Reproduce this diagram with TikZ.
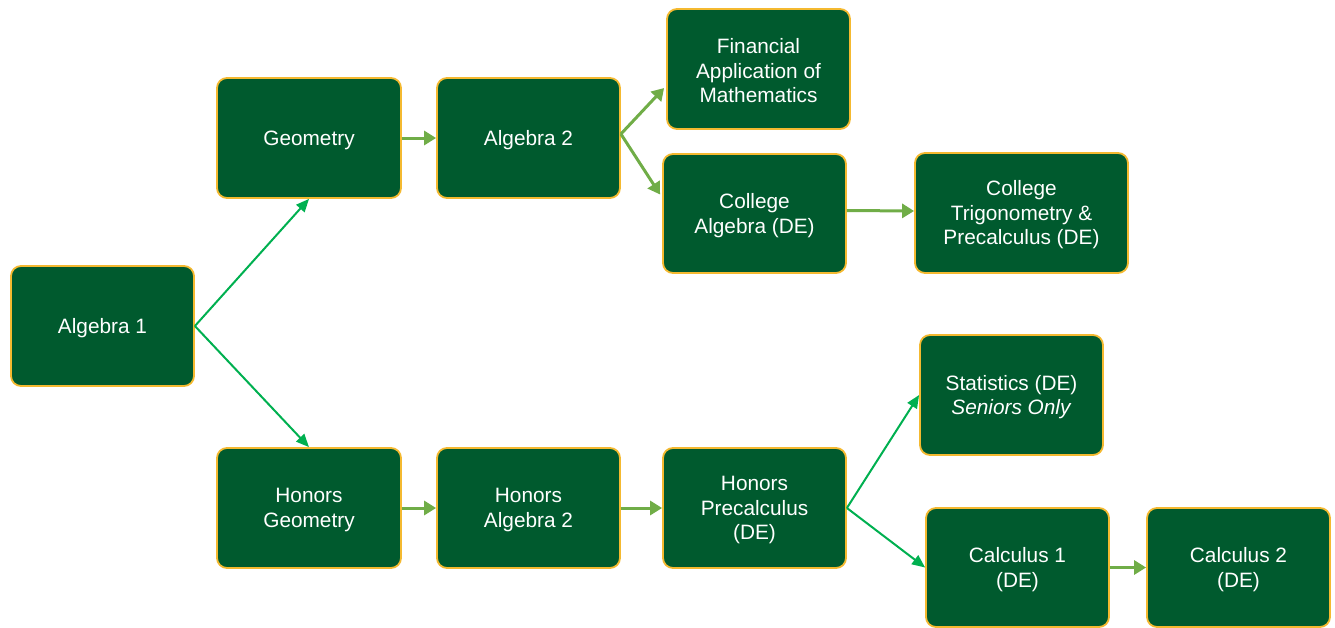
\documentclass[tikz,border=0pt]{standalone}
\usepackage{fontspec}
\setmainfont{Liberation Sans}
\usetikzlibrary{arrows.meta,calc}
\definecolor{boxfill}{RGB}{0,90,46}
\definecolor{boxline}{RGB}{244,185,48}
\definecolor{lgreen}{RGB}{112,173,71}
\definecolor{bgreen}{RGB}{0,176,80}
\begin{document}
\begin{tikzpicture}[x=1pt,y=-1pt,
  course/.style={draw=boxline,line width=1.8pt,fill=boxfill,rounded corners=10pt,inner sep=0pt},
  coursetext/.style={text=white,font=\fontsize{20.8}{24.5}\selectfont,align=center,inner sep=0pt},
  thick arrow/.style={draw=lgreen,line width=3pt,-{Triangle[length=12pt,width=14pt]}},
  thin arrow/.style={draw=bgreen,line width=2pt,-{Triangle[length=13pt,width=11pt]}}]
\useasboundingbox (0,0) rectangle (1335,627);
\newcommand{\crs}[6]{\node[course,minimum width=#4-#2,minimum height=#5-#3] (#1) at ({(#2+#4)/2},{(#3+#5)/2}) {};
  \node[coursetext] (#1t) at ($(#1.center)+(0,2)$) {#6};}
\crs{alg1}{11}{266}{194}{386}{Algebra 1}
\crs{geo}{217}{78}{401}{198}{Geometry}
\crs{alg2}{437}{78}{620}{198}{Algebra 2}
\crs{fin}{667}{9}{850}{129}{Financial\\Application of\\Mathematics}
\crs{calg}{663}{154}{846}{273}{College\\Algebra (DE)}
\crs{ctrig}{915}{153}{1128}{273}{College\\Trigonometry \&\\Precalculus (DE)}
\crs{stat}{920}{335}{1103}{455}{Statistics (DE)\\\textit{Seniors Only}}
\crs{hgeo}{217}{448}{401}{568}{Honors\\Geometry}
\crs{halg2}{437}{448}{620}{568}{Honors\\Algebra 2}
\crs{hpre}{663}{448}{846}{568}{Honors\\Precalculus\\(DE)}
\crs{calc1}{926}{508}{1109}{627}{Calculus 1\\(DE)}
\crs{calc2}{1147}{508}{1330}{627}{Calculus 2\\(DE)}
% bright green arrows
\draw[thin arrow] (alg1.east) -- (geo.south);
\draw[thin arrow] (alg1.east) -- (hgeo.north);
\draw[thin arrow] (hpre.east) -- (stat.west);
\draw[thin arrow] (hpre.east) -- (calc1.west);
% light green arrows
\draw[thick arrow] (geo.east) -- (alg2.west);
\draw[thick arrow] ($(alg2.east)+(0,-4)$) -- ($(fin.west)+(-2,19)$);
\draw[thick arrow] ($(alg2.east)+(0,-4)$) -- ($(calg.west)+(-2,-19)$);
\draw[thick arrow] ($(calg.east)+(0,-3)$) -- ($(ctrig.west)+(0,-2)$);
\draw[thick arrow] (hgeo.east) -- (halg2.west);
\draw[thick arrow] (halg2.east) -- (hpre.west);
\draw[thick arrow] (calc1.east) -- (calc2.west);
\end{tikzpicture}
\end{document}
